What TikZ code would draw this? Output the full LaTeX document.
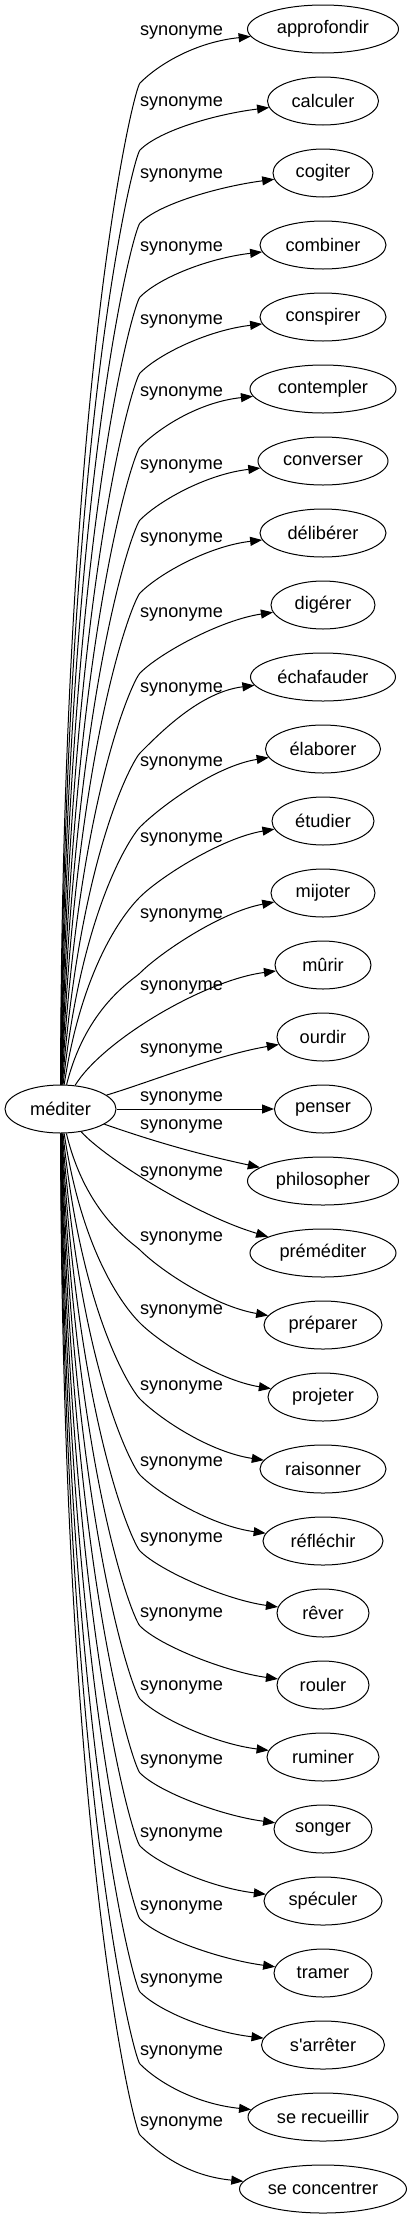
\documentclass[tikz,border=0pt]{standalone}
\usepackage{fontspec}
\setmainfont{Liberation Sans}
\usetikzlibrary{shapes.geometric,arrows.meta,calc}
\begin{document}
\begin{tikzpicture}[x=1pt,y=-1pt,
  syn/.style={draw, ellipse, line width=1pt, minimum height=48pt, inner sep=0pt, font=\fontsize{18.2}{22}\selectfont},
  lab/.style={inner sep=0pt, font=\fontsize{18.2}{22}\selectfont},
  edge/.style={draw, line width=1pt, -{Triangle[length=12pt,width=9pt]}}]
\useasboundingbox (0,0) rectangle (411,2219);
\node[syn, minimum width=111pt] (m) at (60.5,1109) {méditer};
\foreach \i/\t/\w in {0/approfondir/151, 1/calculer/111, 2/cogiter/100, 3/combiner/126,
  4/conspirer/126, 5/contempler/146, 6/converser/130, 7/délibérer/126, 8/digérer/104,
  9/échafauder/145, 10/élaborer/115, 11/étudier/102, 12/mijoter/104, 13/mûrir/96,
  14/ourdir/92, 15/penser/97, 16/philosopher/151, 17/préméditer/146, 18/préparer/118,
  19/projeter/110, 20/raisonner/126, 21/réfléchir/120, 22/rêver/92, 23/rouler/92,
  24/ruminer/112, 25/songer/98, 26/spéculer/118, 27/tramer/98,
  28/s\textquotesingle arrêter/123, 29/se recueillir/150, 30/se concentrer/167}
  \node[syn, minimum width=\w pt] (n\i) at (323,{29+72*\i}) {\t};
\foreach \i/\ly in {0/32, 1/103, 2/175, 3/248, 4/321, 5/393, 6/466, 7/539, 8/614, 9/689,
  10/763, 11/839, 12/915, 13/987, 14/1050, 15/1098, 16/1126, 17/1173, 18/1238, 19/1311,
  20/1387, 21/1463, 22/1539, 23/1614, 24/1687, 25/1761, 26/1834, 27/1907, 28/1980,
  29/2052, 30/2123}
  \node[lab] (l\i) at (181.5,\ly) {synonyme};
% upper edges
\foreach \i/\off/\tl in {0/54/13, 1/49/13, 2/50/13, 3/52/13, 4/56/13, 5/58/13, 6/59/13,
  7/60/13, 8/68/15, 9/76/15, 10/78/17, 11/76/17, 12/80/19}{
  \pgfmathsetmacro\wy{29+72*\i+\off}
  \pgfmathsetmacro\cx{62+2*\i}
  \pgfmathsetmacro\cy{1086-0.7*(1086-\wy)}
  \pgfmathsetmacro\wa{\wy+7}
  \pgfmathsetmacro\wb{\wy-20}
  \draw[edge] (m) .. controls (\cx,\cy) and (133,\wa) .. (140,\wy)
    .. controls (160,\wb) and ($(n\i.west)+(-50,\tl)$) .. (n\i);
}
\draw[edge] (m) .. controls (103,1040) and ($(n13)+(-118,15)$) .. (n13);
\draw[edge] (m) .. controls (150,1082) and ($(n14)+(-106,18)$) .. (n14);
\draw[edge] (m) -- (n15);
\draw[edge] (m) .. controls (150,1140) and ($(n16)+(-130,-28)$) .. (n16);
\draw[edge] (m) .. controls (105,1158) and ($(n17)+(-128,-38)$) .. (n17);
% lower edges
\foreach \i/\ly/\tl in {18/1238/19, 19/1311/17, 20/1387/17, 21/1463/15, 22/1539/13,
  23/1614/13, 24/1687/13, 25/1761/13, 26/1834/13, 27/1907/13, 28/1980/13,
  29/2052/13, 30/2123/13}{
  \pgfmathsetmacro\wy{\ly+12}
  \pgfmathsetmacro\cx{62+2*(30-\i)}
  \pgfmathsetmacro\cy{1133+0.7*(\wy-1133)}
  \pgfmathsetmacro\wa{\wy-7}
  \pgfmathsetmacro\wb{\wy+20}
  \draw[edge] (m) .. controls (\cx,\cy) and (133,\wa) .. (140,\wy)
    .. controls (160,\wb) and ($(n\i.west)+(-50,-\tl)$) .. (n\i);
}
\end{tikzpicture}
\end{document}
